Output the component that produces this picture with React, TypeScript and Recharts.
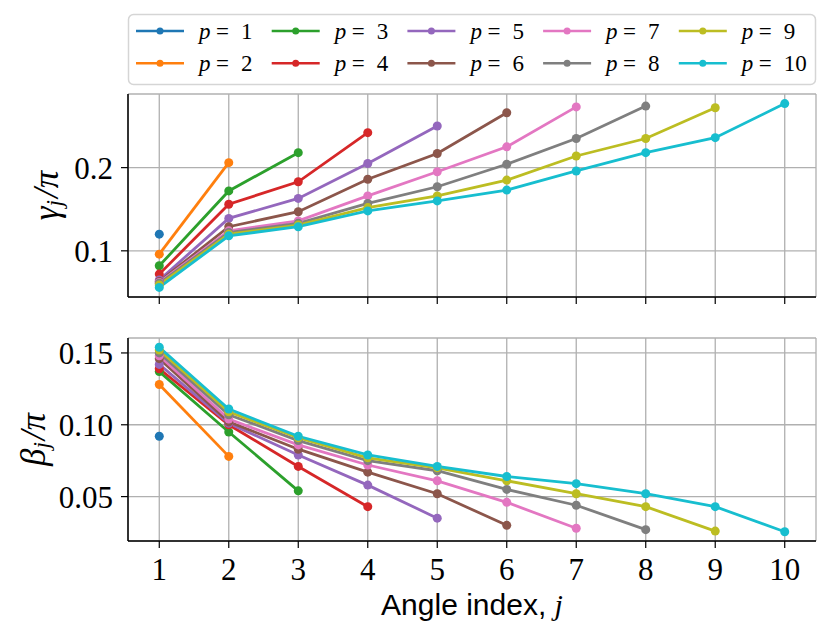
import React from 'react';
import { LineChart, Line, XAxis, YAxis, CartesianGrid, Label } from 'recharts';

// angle index j
const angleIndex = [1, 2, 3, 4, 5, 6, 7, 8, 9, 10];

// gamma_j / pi for each depth p
const gammaP1 = [0.120];
const gammaP2 = [0.096, 0.206];
const gammaP3 = [0.082, 0.172, 0.218];
const gammaP4 = [0.072, 0.156, 0.183, 0.242];
const gammaP5 = [0.065, 0.139, 0.163, 0.205, 0.250];
const gammaP6 = [0.063, 0.129, 0.147, 0.186, 0.217, 0.266];
const gammaP7 = [0.062, 0.124, 0.136, 0.166, 0.195, 0.225, 0.273];
const gammaP8 = [0.061, 0.122, 0.133, 0.157, 0.177, 0.204, 0.235, 0.274];
const gammaP9 = [0.059, 0.120, 0.131, 0.152, 0.166, 0.185, 0.214, 0.235, 0.272];
const gammaP10 = [0.056, 0.118, 0.129, 0.148, 0.160, 0.173, 0.196, 0.218, 0.236, 0.277];

// beta_j / pi for each depth p
const betaP1 = [0.092];
const betaP2 = [0.128, 0.078];
const betaP3 = [0.137, 0.095, 0.054];
const betaP4 = [0.139, 0.100, 0.071, 0.043];
const betaP5 = [0.142, 0.101, 0.079, 0.058, 0.035];
const betaP6 = [0.146, 0.102, 0.083, 0.067, 0.052, 0.030];
const betaP7 = [0.148, 0.104, 0.086, 0.072, 0.061, 0.046, 0.028];
const betaP8 = [0.150, 0.107, 0.089, 0.075, 0.068, 0.055, 0.044, 0.027];
const betaP9 = [0.152, 0.109, 0.091, 0.077, 0.070, 0.061, 0.052, 0.043, 0.026];
const betaP10 = [0.154, 0.111, 0.092, 0.079, 0.071, 0.064, 0.059, 0.052, 0.043, 0.0255];

const depths = [1, 2, 3, 4, 5, 6, 7, 8, 9, 10];
const colors = ['#1f77b4', '#ff7f0e', '#2ca02c', '#d62728', '#9467bd', '#8c564b', '#e377c2', '#7f7f7f', '#bcbd22', '#17becf'];
const gammaSeries = [gammaP1, gammaP2, gammaP3, gammaP4, gammaP5, gammaP6, gammaP7, gammaP8, gammaP9, gammaP10];
const betaSeries = [betaP1, betaP2, betaP3, betaP4, betaP5, betaP6, betaP7, betaP8, betaP9, betaP10];

const gammaTicks = [0.1, 0.2];
const betaTicks = [0.05, 0.1, 0.15];

const buildRows = (series: number[][]) =>
  angleIndex.map((j, i) => {
    const row: Record<string, number | undefined> = { j };
    series.forEach((vals, k) => {
      row['p' + depths[k]] = vals[i];
    });
    return row;
  });

const gammaData = buildRows(gammaSeries);
const betaData = buildRows(betaSeries);

const xDomain = [0.55, 10.45];
const serif = "'Liberation Serif', serif";
const tickStyle = { fill: '#000', fontSize: 31, fontFamily: serif };

const renderLines = () =>
  depths.map((p, k) => (
    <Line
      key={p}
      dataKey={'p' + p}
      stroke={colors[k]}
      strokeWidth={2.8}
      dot={{ r: 4.5, fill: colors[k], stroke: colors[k], strokeWidth: 0 }}
      activeDot={false}
      isAnimationActive={false}
    />
  ));

const YLabel = ({ viewBox, sym, dx }: any) => {
  const cx = viewBox.x + dx;
  const cy = viewBox.y + viewBox.height / 2;
  return (
    <text
      x={cx}
      y={cy}
      transform={`rotate(-90 ${cx} ${cy})`}
      textAnchor="middle"
      dominantBaseline="central"
      fontFamily={serif}
      fontStyle="italic"
      fontSize={35}
      fill="#000"
    >
      {sym}
      <tspan fontSize={23} dy={8}>j</tspan>
      <tspan dy={-8} dx={2}>/π</tspan>
    </text>
  );
};

const XLabel = ({ viewBox }: any) => (
  <text
    x={viewBox.x + viewBox.width / 2}
    y={viewBox.y + 74}
    textAnchor="middle"
    fontFamily="'Liberation Sans', sans-serif"
    fontSize={30}
    fill="#000"
  >
    Angle index,{' '}
    <tspan fontFamily={serif} fontStyle="italic">j</tspan>
  </text>
);

const LegendBox = () => (
  <svg width={831} height={100} style={{ position: 'absolute', left: 0, top: 0 }}>
    <rect x={128.5} y={14.5} width={687} height={70} rx={5} fill="#fff" stroke="#d5d5d5" strokeWidth={1.5} />
    {depths.map((p, k) => {
      const col = Math.floor(k / 2);
      const y = k % 2 === 0 ? 31 : 63.3;
      const x0 = 136 + col * 135.7;
      return (
        <g key={p}>
          <line x1={x0} x2={x0 + 48} y1={y} y2={y} stroke={colors[k]} strokeWidth={2.6} />
          <circle cx={x0 + 24} cy={y} r={3.5} fill={colors[k]} />
          <text y={y + 7.5} fontFamily={serif} fontSize={23} fill="#000">
            <tspan x={x0 + 63} fontStyle="italic">p</tspan>
            <tspan x={x0 + 80}>=</tspan>
            <tspan x={x0 + 105}>{p}</tspan>
          </text>
        </g>
      );
    })}
  </svg>
);

export default function App() {
  return (
    <div style={{ position: 'absolute', left: 0, top: 0, width: 831, height: 637, background: '#fff' }}>
      <LegendBox />
      <div style={{ position: 'absolute', left: 0, top: 0 }}>
        <LineChart width={831} height={330} data={gammaData} margin={{ top: 94, right: 15, bottom: 3, left: 28 }}>
          <CartesianGrid stroke="#b0b0b0" strokeWidth={1.3} />
          <XAxis
            dataKey="j"
            type="number"
            domain={xDomain}
            ticks={angleIndex}
            allowDataOverflow
            height={30}
            tick={tickStyle}
            tickFormatter={() => ''}
            tickSize={7}
            tickLine={{ stroke: '#000', strokeWidth: 1.2 }}
            axisLine={{ stroke: '#000', strokeWidth: 1.5 }}
          />
          <XAxis xAxisId="top" orientation="top" type="number" domain={xDomain} height={0} tick={false} tickLine={false} axisLine={{ stroke: '#000', strokeWidth: 1.5 }} />
          <YAxis
            type="number"
            domain={[0.0445, 0.2885]}
            ticks={gammaTicks}
            allowDataOverflow
            width={100}
            tick={tickStyle}
            tickSize={7}
            tickMargin={8}
            tickFormatter={(v: number) => v.toFixed(1)}
            tickLine={{ stroke: '#000', strokeWidth: 1.2 }}
            axisLine={{ stroke: '#000', strokeWidth: 1.5 }}
          >
            <Label content={(props: any) => <YLabel {...props} sym="γ" dx={18} />} />
          </YAxis>
          <YAxis yAxisId="right" orientation="right" width={0} domain={[0.0445, 0.2885]} tick={false} tickLine={false} axisLine={{ stroke: '#000', strokeWidth: 1.5 }} />
          {renderLines()}
        </LineChart>
      </div>
      <div style={{ position: 'absolute', left: 0, top: 320 }}>
        <LineChart width={831} height={317} data={betaData} margin={{ top: 18, right: 15, bottom: 16, left: 28 }}>
          <CartesianGrid stroke="#b0b0b0" strokeWidth={1.3} />
          <XAxis
            dataKey="j"
            type="number"
            domain={xDomain}
            ticks={angleIndex}
            allowDataOverflow
            height={80}
            tick={tickStyle}
            tickSize={7}
            tickMargin={10}
            tickLine={{ stroke: '#000', strokeWidth: 1.2 }}
            axisLine={{ stroke: '#000', strokeWidth: 1.5 }}
          >
            <Label content={(props: any) => <XLabel {...props} />} />
          </XAxis>
          <XAxis xAxisId="top" orientation="top" type="number" domain={xDomain} height={0} tick={false} tickLine={false} axisLine={{ stroke: '#000', strokeWidth: 1.5 }} />
          <YAxis
            type="number"
            domain={[0.0191, 0.1604]}
            ticks={betaTicks}
            allowDataOverflow
            width={100}
            tick={tickStyle}
            tickSize={7}
            tickMargin={8}
            tickFormatter={(v: number) => v.toFixed(2)}
            tickLine={{ stroke: '#000', strokeWidth: 1.2 }}
            axisLine={{ stroke: '#000', strokeWidth: 1.5 }}
          >
            <Label content={(props: any) => <YLabel {...props} sym="β" dx={5} />} />
          </YAxis>
          <YAxis yAxisId="right" orientation="right" width={0} domain={[0.0191, 0.1604]} tick={false} tickLine={false} axisLine={{ stroke: '#000', strokeWidth: 1.5 }} />
          {renderLines()}
        </LineChart>
      </div>
    </div>
  );
}
